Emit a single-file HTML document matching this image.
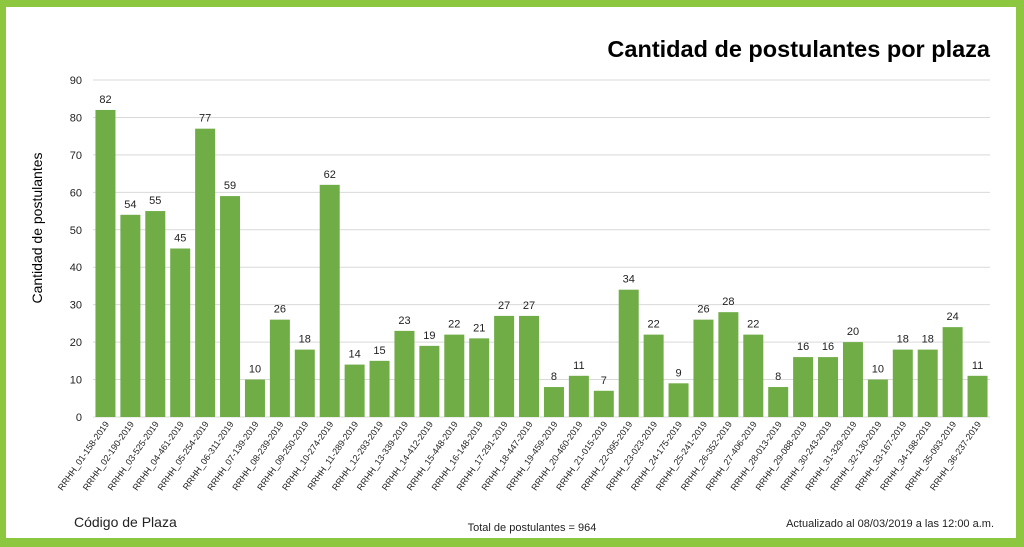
<!DOCTYPE html>
<html><head><meta charset="utf-8"><style>
body{margin:0;background:#fff;}
svg{display:block;font-family:"Liberation Sans",sans-serif;}
</style></head><body>
<svg width="1024" height="547" viewBox="0 0 1024 547">
<rect x="0" y="0" width="1024" height="547" fill="#8dc63f"/>
<rect x="6" y="7" width="1010" height="531" fill="#fff"/>
<text x="990" y="57" text-anchor="end" font-size="23.5" font-weight="bold" fill="#000">Cantidad de postulantes por plaza</text>
<g id="g"></g>
<text transform="translate(42,228) rotate(-90)" text-anchor="middle" font-size="14" fill="#000">Cantidad de postulantes</text>
<text x="74" y="527" font-size="14" fill="#222">Código de Plaza</text>
<text x="532" y="531" text-anchor="middle" font-size="11" fill="#222">Total de postulantes = 964</text>
<text x="994" y="527" text-anchor="end" font-size="11" fill="#222">Actualizado al 08/03/2019  a las 12:00  a.m.</text>
</svg>
<script>
var v=[82,54,55,45,77,59,10,26,18,62,14,15,23,19,22,21,27,27,8,11,7,34,22,9,26,28,22,8,16,16,20,10,18,18,24,11];
var codes=["01-158","02-190","03-525","04-461","05-254","06-311","07-139","08-239","09-250","10-274","11-289","12-293","13-339","14-412","15-448","16-148","17-291","18-447","19-459","20-460","21-015","22-095","23-023","24-175","25-241","26-352","27-406","28-013","29-088","30-243","31-329","32-130","33-167","34-198","35-093","36-237"];
var s='',y0=417,k=(417-80)/90,x0=93,x1=990,w=(x1-x0)/36;
for(var i=0;i<=9;i++){var y=y0-i*10*k;s+='<line x1="'+x0+'" x2="'+x1+'" y1="'+y+'" y2="'+y+'" stroke="#d9d9d9" stroke-width="1"/>';s+='<text x="82" y="'+(y+4)+'" text-anchor="end" font-size="11" fill="#222">'+(i*10)+'</text>';}
for(var j=0;j<36;j++){var c=x0+w*(j+.5),h=v[j]*k;
s+='<rect x="'+(c-10)+'" y="'+(y0-h)+'" width="20" height="'+h+'" fill="#70ad47"/>';
s+='<text x="'+c+'" y="'+(y0-h-7)+'" text-anchor="middle" font-size="11" fill="#222">'+v[j]+'</text>';
s+='<text transform="translate('+(c+4)+',424) rotate(-55)" text-anchor="end" font-size="9" fill="#222">RRHH_'+codes[j]+'-2019</text>';}
document.getElementById('g').innerHTML=s;
</script>
</body></html>
